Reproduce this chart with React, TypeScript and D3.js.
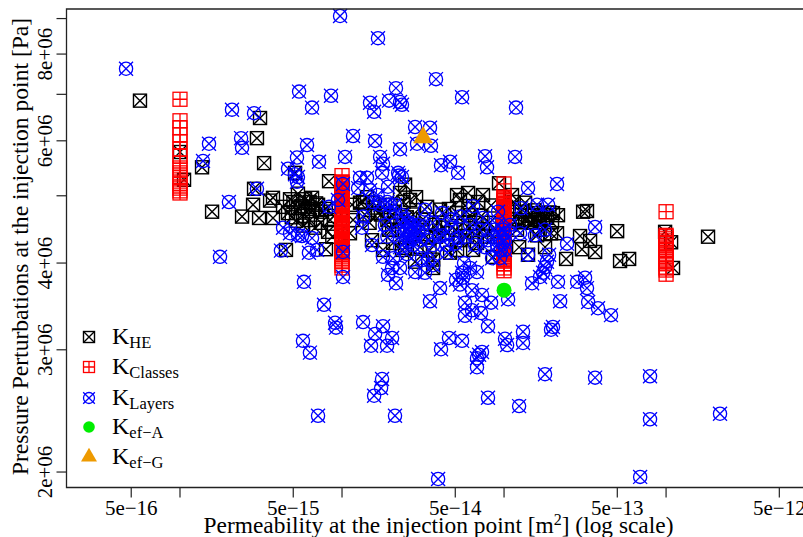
import React from "react";
import * as d3 from "d3";

// All pairs are [log10 permeability (m2), log10 pressure perturbation (Pa)]
const layersPoints: [number, number][] = [
[-15.333,6.882],[-14.012,6.958],[-13.778,6.926],[-13.420,6.867],[-14.265,6.849],[-13.667,6.854],[-13.259,6.841],[-14.068,6.843],[-14.185,6.826],[-13.827,6.833],
[-13.802,6.820],[-13.710,6.836],[-13.642,6.834],[-13.630,6.830],[-12.926,6.826],[-14.679,6.823],[-14.543,6.818],[-13.549,6.798],[-13.457,6.797],[-13.932,6.785],
[-13.796,6.778],[-13.537,6.774],[-13.451,6.771],[-13.642,6.766],[-14.216,6.772],[-13.981,6.755],[-14.142,6.748],[-13.765,6.755],[-13.747,6.745],[-13.117,6.756],
[-13.105,6.740],[-12.932,6.755],[-13.333,6.748],[-13.389,6.743],[-13.284,6.732],[-13.753,6.732],[-13.889,6.725],[-13.846,6.725],[-13.654,6.732],[-13.630,6.726],
[-13.648,6.728],[-13.716,6.712],[-13.901,6.710],[-13.827,6.707],[-13.994,6.716],[-14.025,6.693],[-14.080,6.683],[-12.852,6.710],[-12.673,6.716],[-12.895,6.681],
[-12.796,6.686],[-12.728,6.686],[-13.191,6.684],[-13.037,6.676],[-14.821,6.774],[-14.623,6.782],[-14.617,6.768],[-14.858,6.749],[-14.278,6.754],[-14.333,6.738],
[-14.290,6.730],[-14.272,6.726],[-14.278,6.719],[-14.525,6.709],[-14.698,6.690],[-14.364,6.653],[-14.321,6.645],[-14.272,6.642],[-14.247,6.641],[-14.185,6.638],
[-14.753,6.611],[-14.377,6.620],[-14.204,6.617],[-14.154,6.621],[-14.235,6.575],[-13.994,6.618],[-13.994,6.582],[-13.870,6.669],[-13.877,6.653],[-13.809,6.690],
[-13.704,6.686],[-13.673,6.686],[-13.704,6.674],[-13.580,6.654],[-13.562,6.650],[-13.593,6.661],[-13.531,6.657],[-13.488,6.679],[-13.383,6.674],[-13.272,6.669],
[-13.130,6.667],[-13.006,6.650],[-13.321,6.653],[-13.284,6.638],[-13.179,6.628],[-13.006,6.632],[-13.025,6.609],[-13.074,6.609],[-13.642,6.625],[-13.469,6.635],
[-13.438,6.628],[-13.506,6.609],[-13.469,6.607],[-13.747,6.611],[-13.691,6.595],[-13.642,6.595],[-13.716,6.585],[-13.667,6.573],[-13.549,6.589],[-13.488,6.588],
[-13.438,6.599],[-13.352,6.617],[-13.247,6.602],[-13.167,6.589],[-13.259,6.588],[-13.253,6.581],[-13.272,6.571],[-13.395,6.566],[-13.198,6.563],[-13.457,6.547],
[-13.136,6.556],[-12.747,6.650],[-12.901,6.645],[-12.809,6.642],[-12.611,6.630],[-12.438,6.654],[-12.852,6.614],[-12.722,6.614],[-12.735,6.604],[-12.747,6.596],
[-12.759,6.588],[-12.778,6.582],[-12.827,6.573],[-12.667,6.575],[-12.549,6.575],[-12.500,6.581],[-12.488,6.566],[-12.481,6.546],[-12.654,6.547],[-12.994,6.645],
[-12.994,6.635],[-12.975,6.550],[-13.241,6.545],[-13.241,6.526],[-13.198,6.534],[-13.142,6.530],[-13.080,6.545],[-13.099,6.511],[-12.420,6.537],[-12.340,6.527],
[-12.994,6.493],[-12.981,6.484],[-12.883,6.503],[-12.883,6.487],[-12.698,6.510],[-12.710,6.506],[-12.747,6.442],[-12.438,6.437],[-13.340,6.494],[-13.259,6.490],
[-13.389,6.478],[-13.136,6.474],[-13.154,6.470],[-13.167,6.465],[-13.167,6.452],[-14.111,6.542],[-14.043,6.516],[-14.037,6.509],[-13.870,6.517],[-13.747,6.511],
[-13.796,6.500],[-13.691,6.494],[-13.821,6.483],[-13.722,6.483],[-14.241,6.490],[-14.198,6.473],[-13.753,6.435],[-13.759,6.422],[-13.802,6.411],[-13.099,6.408],
[-12.907,6.396],[-14.148,6.382],[-13.673,6.382],[-13.407,6.291],[-12.099,6.439],[-12.099,6.377],[-11.667,6.385],[-12.160,6.294],[-13.765,6.686],[-13.735,6.657],
[-13.630,6.671],[-13.605,6.635],[-13.562,6.628],[-13.654,6.647],[-13.519,6.635],[-13.685,6.609],[-13.815,6.628],[-13.377,6.642],[-13.352,6.628],[-13.210,6.657],
[-13.099,6.635],[-13.043,6.657],[-12.963,6.657],[-12.994,6.621],[-13.043,6.628],[-13.296,6.578],[-13.210,6.595],
[-13.600,6.650],[-13.580,6.645],[-13.570,6.658],[-13.550,6.640],[-13.530,6.648],[-13.590,6.636],[-13.620,6.645],[-13.500,6.655],[-13.620,6.665],[-13.720,6.640],
[-13.440,6.660],[-13.400,6.640],[-13.330,6.665],[-13.300,6.630],[-13.240,6.640],[-13.150,6.650],[-13.120,6.625],[-13.060,6.650],[-13.030,6.640],[-13.020,6.620],
[-13.600,6.615],[-13.780,6.700],[-13.720,6.690],
];

const hePoints: [number, number][] = [
[-15.247,6.836],[-14.506,6.811],[-14.525,6.782],[-14.481,6.746],[-15.000,6.762],[-14.975,6.722],[-14.864,6.740],[-14.543,6.709],[-14.802,6.676],[-14.617,6.669],
[-14.549,6.686],[-14.512,6.667],[-14.426,6.696],[-14.444,6.692],[-14.426,6.667],[-14.272,6.702],[-14.321,6.694],[-14.185,6.696],[-14.228,6.694],[-14.148,6.686],
[-14.333,6.674],[-14.241,6.670],[-14.185,6.677],[-14.272,6.681],[-14.167,6.653],[-14.086,6.647],[-14.346,6.621],[-14.099,6.622],[-14.290,6.732],[-14.074,6.664],
[-14.080,6.720],[-14.364,6.683],[-14.284,6.663],[-14.123,6.676],[-14.198,6.664],[-13.290,6.700],[-13.222,6.703],[-13.130,6.700],[-13.031,6.717],[-13.815,6.635],
[-13.691,6.650],[-13.747,6.621],[-13.611,6.624],[-13.549,6.604],[-13.438,6.595],[-13.333,6.617],[-13.191,6.621],[-13.543,6.697],[-13.611,6.715],[-13.938,6.686],
[-13.932,6.664],[-13.951,6.645],[-13.809,6.689],[-13.735,6.686],[-13.395,6.679],[-13.290,6.674],[-13.377,6.653],[-13.475,6.683],[-13.130,6.650],[-13.191,6.647],
[-13.068,6.611],[-13.642,6.703],[-13.846,6.697],[-13.889,6.689],[-13.778,6.674],[-13.673,6.676],[-13.519,6.625],[-13.290,6.621],[-13.167,6.631],[-13.438,6.607],
[-13.630,6.621],[-13.685,6.631],[-13.580,6.693],[-13.272,6.693],[-13.210,6.671],[-13.426,6.657],[-12.951,6.700],[-12.870,6.689],[-12.932,6.661],[-12.667,6.671],
[-12.698,6.674],[-12.512,6.676],[-12.488,6.677],[-12.302,6.648],[-12.531,6.641],[-12.469,6.634],[-12.519,6.622],[-12.438,6.618],[-12.617,6.608],[-12.673,6.645],
[-12.747,6.625],[-12.852,6.614],[-12.907,6.625],[-12.284,6.605],[-12.228,6.608],[-12.870,6.664],[-12.827,6.671],[-12.790,6.674],[-12.747,6.671],[-12.809,6.664],
[-12.778,6.661],[-12.735,6.667],[-12.704,6.661],[-12.840,6.661],[-12.889,6.661],[-12.796,6.642],[-12.006,6.647],[-11.969,6.632],[-11.957,6.595],[-11.741,6.640],
[-12.901,6.676],
[-14.300,6.690],[-14.250,6.684],[-14.210,6.680],[-14.160,6.688],[-14.130,6.660],[-14.310,6.668],[-14.240,6.656],[-14.200,6.690],[-14.100,6.680],[-14.050,6.670],
[-14.060,6.640],[-13.870,6.690],[-13.860,6.672],[-13.830,6.660],[-13.800,6.682],[-13.760,6.672],[-13.720,6.664],[-13.710,6.650],[-13.660,6.662],[-13.620,6.690],
[-13.600,6.668],[-13.580,6.640],[-13.560,6.672],[-13.530,6.650],[-13.500,6.665],[-13.480,6.640],[-13.460,6.620],[-13.420,6.640],[-13.400,6.660],[-13.350,6.645],
[-13.340,6.680],[-13.300,6.650],[-13.270,6.635],[-13.250,6.660],[-13.230,6.640],[-13.220,6.680],[-13.180,6.660],[-13.160,6.690],[-13.140,6.670],[-13.120,6.640],
[-13.090,6.660],[-13.080,6.685],[-13.060,6.640],[-12.970,6.680],[-12.950,6.665],[-12.920,6.650],[-12.940,6.690],[-12.850,6.670],[-12.830,6.660],[-12.810,6.678],
[-12.760,6.665],[-12.720,6.675],[-12.780,6.650],[-12.710,6.645],
];

// KClasses takes only four permeabilities; the pressures are listed per column
const classesLogK = [-15, -14, -13, -12];
const classesLogP: number[][] = [
  [6.838,6.807,6.797,6.787,6.777,6.766,6.756,6.746,6.739,6.732,6.725,6.717,6.710,6.706,6.703],
  [6.728,6.719,6.717,6.716,6.714,6.712,6.710,6.707,6.705,6.703,6.700,6.698,6.696,6.693,6.691,6.689,6.687,6.684,6.681,6.679,6.677,6.675,6.673,6.670,6.668,6.666,6.664,6.661,6.658,6.656,6.654,6.652,6.650,6.647,6.645,6.642,6.640,6.638,6.635,6.633,6.631,6.629,6.627,6.624,6.622,6.620,6.617,6.612,6.608,6.604,6.599,6.595],
  [6.716,6.697,6.696,6.694,6.692,6.690,6.688,6.686,6.683,6.681,6.679,6.677,6.674,6.671,6.669,6.667,6.665,6.663,6.660,6.658,6.655,6.653,6.651,6.648,6.646,6.644,6.642,6.640,6.637,6.635,6.632,6.630,6.628,6.625,6.623,6.621,6.619,6.617,6.614,6.612,6.609,6.607,6.605,6.601,6.595,6.591],
  [6.676,6.642,6.640,6.637,6.634,6.630,6.627,6.622,6.620,6.615,6.611,6.608,6.604,6.601,6.595,6.592,6.586],
];
const efA: [number, number] = [-13, 6.563];
const efG: [number, number] = [-13.5, 6.785];

const xTicks = [5e-16, 1e-15, 5e-15, 1e-14, 5e-14, 1e-13, 5e-13, 1e-12, 5e-12];
const xLabelled = ["5e\u221216", "", "5e\u221215", "", "5e\u221214", "", "5e\u221213", "", "5e\u221212"];
const yTicks = [2e6, 3e6, 4e6, 5e6, 6e6, 7e6, 8e6, 9e6];
const yLabelled = ["2e+06", "3e+06", "4e+06", "", "6e+06", "", "8e+06", ""];
const legendSubs = ["HE", "Classes", "Layers", "ef\u2212A", "ef\u2212G"];

const W = 803, H = 537;
const left = 66.5, top = 9, bottom = 487.5;
const x = d3.scaleLog().domain([1.993e-16, 7.0e-12]).range([left, W]);
const y = d3.scaleLog().domain([1.9e6, 9.29e6]).range([bottom, top]);
const px = (l: number) => x(Math.pow(10, l));
const py = (l: number) => y(Math.pow(10, l));

const BLACK = "#000";
const RED = "#ff0000";
const BLUE = "#0000ff";
const GREEN = "#00ee00";
const ORANGE = "#ee9a00";

const triangle = d3.symbol().type(d3.symbolTriangle);

function SquareX({ cx, cy, s }: { cx: number; cy: number; s: number }) {
  return <g transform={`translate(${cx},${cy})`} fill="none" stroke={BLACK} strokeWidth={1.4}>
    <rect x={-s} y={-s} width={2 * s} height={2 * s} />
    <path d={`M${-s},${-s}L${s},${s}M${-s},${s}L${s},${-s}`} />
  </g>;
}
function SquarePlus({ cx, cy, s }: { cx: number; cy: number; s: number }) {
  return <g transform={`translate(${cx},${cy})`} fill="none" stroke={RED} strokeWidth={1.3}>
    <rect x={-s} y={-s} width={2 * s} height={2 * s} />
    <path d={`M${-s},0L${s},0M0,${-s}L0,${s}`} />
  </g>;
}
function CircleX({ cx, cy, s }: { cx: number; cy: number; s: number }) {
  const a = s * 1.06;
  return <g transform={`translate(${cx},${cy})`} fill="none" stroke={BLUE} strokeWidth={1.3}>
    <circle r={s} />
    <path d={`M${-a},${-a}L${a},${a}M${-a},${a}L${a},${-a}`} />
  </g>;
}

const legendRows = [337, 367, 398, 427, 457];

export default function App() {
  return (
    <svg width={W} height={H} viewBox={`0 0 ${W} ${H}`}
      style={{ position: "absolute", left: 0, top: 0, background: "#fff" }}
      fontFamily="'Liberation Serif', serif" fill={BLACK}>
      {hePoints.map((d, i) => <SquareX key={i} cx={px(d[0])} cy={py(d[1])} s={6.5} />)}
      {classesLogK.map((k, c) => classesLogP[c].map((p, i) =>
        <SquarePlus key={`${c}-${i}`} cx={px(k)} cy={py(p)} s={7} />))}
      {layersPoints.map((d, i) => <CircleX key={i} cx={px(d[0])} cy={py(d[1])} s={6.6} />)}
      <circle cx={px(efA[0])} cy={py(efA[1])} r={7.5} fill={GREEN} />
      <path transform={`translate(${px(efG[0])},${py(efG[1]) + 1.5})`} d={triangle.size(170)()!} fill={ORANGE} />

      <path d={`M${W + 5},${top}H${left}V${bottom}H${W + 5}`} fill="none" stroke="#222" strokeWidth={1.3} />
      {xTicks.map((t, i) => <g key={i}>
        <line x1={x(t)} x2={x(t)} y1={bottom} y2={bottom + 10} stroke="#222" strokeWidth={1.2} />
        {xLabelled[i] && <text x={x(t)} y={515} fontSize={21} textAnchor="middle">{xLabelled[i]}</text>}
      </g>)}
      {yTicks.map((t, i) => <g key={i}>
        <line x1={left - 10} x2={left} y1={y(t)} y2={y(t)} stroke="#222" strokeWidth={1.2} />
        {yLabelled[i] && <text transform={`translate(52,${y(t)}) rotate(-90)`} fontSize={21} textAnchor="middle">{yLabelled[i]}</text>}
      </g>)}

      <text x={438.5} y={533} fontSize={23.4} textAnchor="middle">
        Permeability at the injection point [m<tspan dy={-8} fontSize={16}>2</tspan><tspan dy={8}>] (log scale)</tspan>
      </text>
      <text transform="translate(28,246.5) rotate(-90)" fontSize={23.6} textAnchor="middle">
        Pressure Perturbations at the injection point [Pa]
      </text>

      {/* legend */}
      <SquareX cx={89} cy={legendRows[0]} s={5.5} />
      <SquarePlus cx={89} cy={legendRows[1]} s={5.5} />
      <CircleX cx={89} cy={legendRows[2]} s={5.5} />
      <circle cx={89} cy={legendRows[3]} r={5.8} fill={GREEN} />
      <path transform={`translate(89,${legendRows[4]})`} d={triangle.size(110)()!} fill={ORANGE} />
      {legendSubs.map((s, i) => <text key={s} x={112} y={legendRows[i] + 6.5} fontSize={24}>
        K<tspan dy={4} fontSize={16.5}>{s}</tspan>
      </text>)}
    </svg>
  );
}
